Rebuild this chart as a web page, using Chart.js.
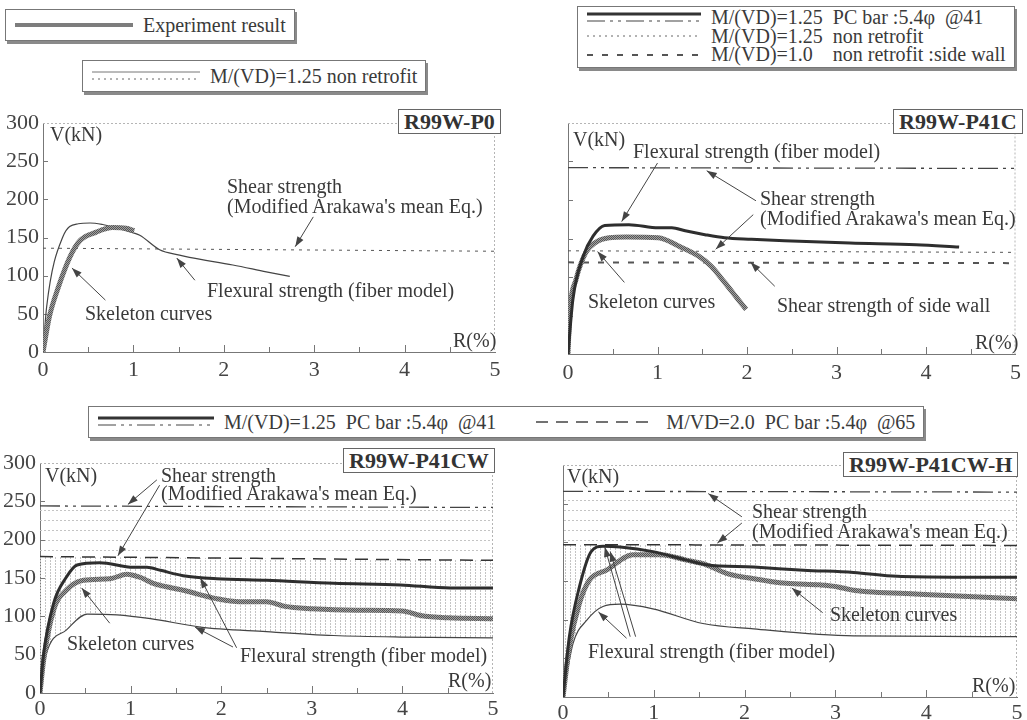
<!DOCTYPE html>
<html>
<head>
<meta charset="utf-8">
<script src="https://cdn.jsdelivr.net/npm/chart.js@4.4.1/dist/chart.umd.min.js"></script>
<style>
  body { margin:0; background:#fff; width:1027px; height:720px; position:relative; overflow:hidden;
         font-family:"Liberation Serif","Times New Roman",serif; color:#3a3a3a; }
  canvas { position:absolute; }
  .box { position:absolute; border:1px solid #777; background:#fff; box-shadow:2px 3px 0 #8a8a8a; padding:2px 8px 2px 9px; }
  .row { display:flex; align-items:center; font-size:20px; white-space:pre; }
  .row svg { margin-right:10px; flex:none; }
  .t { position:absolute; font-size:20px; line-height:20px; white-space:pre; color:#3a3a3a; }
  .tag { position:absolute; border:1px solid #666; background:#fff; font-weight:bold; font-size:22px;
         line-height:23px; padding:0 5px; color:#333; }
</style>
</head>
<body>

<!-- legend boxes -->
<div class="box" style="left:5px;top:9px;">
  <div class="row" style="height:26px"><svg width="118" height="12"><line x1="0" y1="6" x2="118" y2="6" stroke="#7d7d7d" stroke-width="4"/></svg><span>Experiment result</span></div>
</div>
<div class="box" style="left:82px;top:60px;">
  <div class="row" style="height:26px"><svg width="108" height="14"><line x1="0" y1="3" x2="108" y2="3" stroke="#777" stroke-width="1"/><line x1="0" y1="10" x2="108" y2="10" stroke="#666" stroke-width="1" stroke-dasharray="2 4"/></svg><span>M/(VD)=1.25 non retrofit</span></div>
</div>
<div class="box" style="left:577px;top:6px;padding-top:1px;padding-bottom:3px">
  <div class="row" style="height:19px"><svg width="114" height="14"><line x1="0" y1="3" x2="114" y2="3" stroke="#333" stroke-width="3"/><line x1="0" y1="10" x2="114" y2="10" stroke="#444" stroke-width="1.2" stroke-dasharray="18 5 3 5 3 5"/></svg><span>M/(VD)=1.25  PC bar :5.4φ  @41</span></div>
  <div class="row" style="height:18px"><svg width="114" height="14"><line x1="0" y1="7" x2="114" y2="7" stroke="#666" stroke-width="1" stroke-dasharray="2 4"/></svg><span>M/(VD)=1.25  non retrofit</span></div>
  <div class="row" style="height:19px"><svg width="114" height="14"><line x1="0" y1="7" x2="114" y2="7" stroke="#555" stroke-width="2" stroke-dasharray="6 9"/></svg><span>M/(VD)=1.0    non retrofit :side wall</span></div>
</div>
<div class="box" style="left:88px;top:406px;">
  <div class="row" style="height:26px"><svg width="116" height="14"><line x1="0" y1="3" x2="116" y2="3" stroke="#333" stroke-width="3"/><line x1="0" y1="10" x2="116" y2="10" stroke="#444" stroke-width="1.2" stroke-dasharray="18 5 3 5 3 5"/></svg><span>M/(VD)=1.25  PC bar :5.4φ  @41</span><svg width="120" height="14" style="margin-left:40px"><line x1="0" y1="7" x2="120" y2="7" stroke="#444" stroke-width="1.4" stroke-dasharray="12 8"/></svg><span>M/VD=2.0  PC bar :5.4φ  @65</span></div>
</div>

<canvas id="c1" width="515" height="285" style="left:0;top:100px"></canvas>
<canvas id="c2" width="507" height="285" style="left:520px;top:100px"></canvas>
<canvas id="c3" width="515" height="280" style="left:0;top:440px"></canvas>
<canvas id="c4" width="507" height="280" style="left:520px;top:440px"></canvas>

<!-- panel 1 texts -->
<div class="t" style="left:50px;top:124px">V(kN)</div>
<div class="t" style="left:227px;top:176px">Shear strength
(Modified Arakawa's mean Eq.)</div>
<div class="t" style="left:207px;top:280px">Flexural strength (fiber model)</div>
<div class="t" style="left:85px;top:303px">Skeleton curves</div>
<div class="t" style="left:453px;top:330px">R(%)</div>
<div class="tag" style="left:398px;top:109px">R99W-P0</div>

<!-- panel 2 texts -->
<div class="t" style="left:573px;top:129px">V(kN)</div>
<div class="t" style="left:633px;top:141px">Flexural strength (fiber model)</div>
<div class="t" style="left:760px;top:188px">Shear strength
(Modified Arakawa's mean Eq.)</div>
<div class="t" style="left:588px;top:291px">Skeleton curves</div>
<div class="t" style="left:777px;top:295px">Shear strength of side wall</div>
<div class="t" style="left:975px;top:332px">R(%)</div>
<div class="tag" style="left:893px;top:109px">R99W-P41C</div>

<!-- panel 3 texts -->
<div class="t" style="left:45px;top:465px">V(kN)</div>
<div class="t" style="left:161px;top:466px;line-height:18px">Shear strength
(Modified Arakawa's mean Eq.)</div>
<div class="t" style="left:67px;top:633px">Skeleton curves</div>
<div class="t" style="left:240px;top:645px">Flexural strength (fiber model)</div>
<div class="t" style="left:448px;top:670px">R(%)</div>
<div class="tag" style="left:343px;top:448px">R99W-P41CW</div>

<!-- panel 4 texts -->
<div class="t" style="left:567px;top:466px">V(kN)</div>
<div class="t" style="left:752px;top:501px">Shear strength
(Modified Arakawa's mean Eq.)</div>
<div class="t" style="left:830px;top:604px">Skeleton curves</div>
<div class="t" style="left:588px;top:641px">Flexural strength (fiber model)</div>
<div class="t" style="left:972px;top:675px">R(%)</div>
<div class="tag" style="left:843px;top:452px">R99W-P41CW-H</div>

<script>
// ---- data: R (%) vs V (kN) ----
const lineEnds = [0, 5];

// R99W-P0
const p0ExpR   = [0, 0.07, 0.17, 0.30, 0.41, 0.59, 0.77, 0.92, 1.01];
const p0ExpV   = [0, 46, 85, 125, 146, 157, 163, 162, 159];
const p0FlexR  = [0, 0.04, 0.22, 0.39, 0.52, 0.66, 0.77, 1.0, 1.07, 1.29, 1.51, 1.62, 2.1, 2.47, 2.73];
const p0FlexV  = [0, 59, 151, 168, 169, 167, 164, 156, 153, 134, 127, 124, 114, 105, 99];
const p0ShearV = [136, 132];

// R99W-P41C
const p41cExpR   = [0, 0.02, 0.09, 0.2, 0.31, 0.46, 0.65, 1.01, 1.24, 1.46, 1.6, 1.75, 1.9, 1.99];
const p41cExpV   = [0, 54, 97, 132, 145, 151, 152, 151, 140, 127, 114, 93, 71, 58];
const p41cFlexR  = [0, 0.055, 0.17, 0.28, 0.41, 0.68, 1.01, 1.16, 1.31, 1.53, 1.75, 2.05, 2.42, 3.15, 3.89, 4.37];
const p41cFlexV  = [0, 71, 127, 153, 167, 168, 164, 164, 160, 155, 151, 149, 147, 144, 142, 139];
const p41cShearV = [242, 241];
const p41cNonV   = [134, 132];
const p41cSideV  = [119, 118];

// R99W-P41CW
const p41cwExpR   = [0, 0.04, 0.15, 0.29, 0.48, 0.77, 0.96, 1.1, 1.25, 1.58, 1.95, 2.2, 2.5, 2.7, 3.0, 3.5, 4.0, 4.2, 4.5, 5];
const p41cwExpV   = [0, 43, 108, 134, 147, 149, 155, 151, 143, 134, 123, 119, 119, 113, 110, 108, 107, 101, 98, 97];
const p41cwFlexR  = [0, 0.04, 0.15, 0.29, 0.41, 0.66, 1.03, 1.18, 1.33, 1.58, 1.95, 2.5, 3.24, 3.98, 4.53, 5];
const p41cwFlexV  = [0, 51, 117, 151, 167, 170, 164, 164, 160, 153, 149, 147, 143, 141, 137, 137];
const p41cwThinR  = [0, 0.07, 0.29, 0.52, 0.85, 1.22, 1.77, 2.5, 3.24, 3.98, 5];
const p41cwThinV  = [0, 51, 82, 103, 102, 97, 86, 80, 75, 73, 72];
const p41cwShearV = [244, 242];
const p41cwWallV  = [178, 173];

// R99W-P41CW-H
const p41cwhExpR   = [0, 0.07, 0.18, 0.29, 0.48, 0.77, 1.07, 1.36, 1.58, 1.8, 2.1, 2.46, 2.83, 3.0, 3.2, 3.93, 5];
const p41cwhExpV   = [0, 65, 121, 151, 164, 184, 184, 177, 171, 160, 153, 147, 145, 143, 138, 133, 127];
const p41cwhFlexR  = [0, 0.07, 0.18, 0.31, 0.44, 0.63, 0.99, 1.36, 1.58, 2.1, 2.65, 3.2, 3.68, 4.3, 5];
const p41cwhFlexV  = [0, 78, 142, 188, 195, 194, 188, 177, 171, 168, 164, 161, 156, 155, 155];
const p41cwhThinR  = [0, 0.11, 0.26, 0.44, 0.63, 0.99, 1.54, 2.1, 3.2, 5];
const p41cwhThinV  = [0, 69, 99, 117, 120, 114, 95, 88, 79, 78];
const p41cwhShearV = [266, 265];
const p41cwhWallV  = [197, 196];

// annotation arrows [R from, V from, R to, V to]
const p0Arrows = [[2.99,177,2.79,138],[1.68,94,1.48,123],[0.69,68,0.32,110]];
const p41cArrows = [[1.0,248,0.6,172],[2.1,199,1.55,238],[2.07,181,1.65,136],[0.63,93,0.33,133],[2.31,88,2.04,119]];
const p41cwArrows = [[1.29,278,0.97,246],[1.32,271,0.86,179],[0.77,91,0.46,137],[2.13,60,1.71,86],[2.17,59,1.77,150]];
const p41cwhArrows = [[1.97,233,1.6,263],[1.97,225,1.7,199],[2.86,109,2.52,141],[0.7,76,0.39,110],[0.74,78,0.46,194],[0.8,78,0.52,188]];

// ---- helpers ----
function pts(rs, vs) { return rs.map((r, i) => ({x: r, y: vs[i]})); }

function makePattern(w, h, draw) {
  const c = document.createElement('canvas');
  c.width = w; c.height = h;
  const x = c.getContext('2d');
  draw(x);
  return x.createPattern(c, 'repeat');
}
const vHatch = makePattern(5, 3, x => { x.fillStyle = '#c4c4c4'; x.fillRect(0, 0, 1, 2); });
const hHatch = makePattern(4, 10, x => { x.fillStyle = '#c4c4c4'; x.fillRect(0, 0, 2, 1); });
const expPattern = makePattern(2, 2, x => {
  x.fillStyle = '#a0a0a0'; x.fillRect(0, 0, 2, 2);
  x.fillStyle = '#555'; x.fillRect(0, 0, 1, 1); x.fillRect(1, 1, 1, 1);
});

const expStyle  = {borderColor: expPattern, borderWidth: 5};
const flexStyle = {borderColor: '#2e2e2e', borderWidth: 3};
const thinStyle = {borderColor: '#444', borderWidth: 1.2};
const dotStyle  = {borderColor: '#555', borderWidth: 1, borderDash: [3, 5], tension: 0};
const dashDotStyle = {borderColor: '#444', borderWidth: 1.3, borderDash: [20, 5, 3, 5, 3, 5], tension: 0};
const sideStyle = {borderColor: '#555', borderWidth: 2, borderDash: [6, 9], tension: 0};
const dashStyle = {borderColor: '#333', borderWidth: 1.5, borderDash: [13, 8], tension: 0};

// plot frame + inward tick marks
const framePlugin = {
  id: 'frame',
  beforeDatasetsDraw(chart) {
    const {ctx, chartArea: a, scales: {x, y}} = chart;
    ctx.save();
    ctx.strokeStyle = '#b5b5b5'; ctx.lineWidth = 1; ctx.setLineDash([2, 2]);
    ctx.beginPath();
    ctx.moveTo(a.left, a.top + 0.5); ctx.lineTo(a.right - 0.5, a.top + 0.5); ctx.lineTo(a.right - 0.5, a.bottom);
    ctx.stroke();
    ctx.setLineDash([]); ctx.strokeStyle = '#777';
    ctx.beginPath();
    for (let r = 0.5; r < 5; r += 0.5) {
      const px = Math.round(x.getPixelForValue(r)) + 0.5;
      ctx.moveTo(px, a.bottom); ctx.lineTo(px, a.bottom - (r % 1 ? 5 : 7));
    }
    for (let v = 50; v < 300; v += 50) {
      const py = Math.round(y.getPixelForValue(v)) + 0.5;
      ctx.moveTo(a.left, py); ctx.lineTo(a.left + 5, py);
    }
    ctx.stroke();
    ctx.restore();
  }
};

// annotation arrows
const annotPlugin = {
  id: 'annot',
  afterDatasetsDraw(chart, args, opts) {
    const {ctx, scales: {x, y}} = chart;
    ctx.save();
    ctx.strokeStyle = '#444'; ctx.fillStyle = '#444'; ctx.lineWidth = 1;
    (opts.arrows || []).forEach(a => {
      const x1 = x.getPixelForValue(a[0]), y1 = y.getPixelForValue(a[1]);
      const x2 = x.getPixelForValue(a[2]), y2 = y.getPixelForValue(a[3]);
      ctx.beginPath(); ctx.moveTo(x1, y1); ctx.lineTo(x2, y2); ctx.stroke();
      const ang = Math.atan2(y2 - y1, x2 - x1), L = 10, W = 3.5;
      ctx.beginPath();
      ctx.moveTo(x2, y2);
      ctx.lineTo(x2 - L * Math.cos(ang) + W * Math.sin(ang), y2 - L * Math.sin(ang) - W * Math.cos(ang));
      ctx.lineTo(x2 - L * Math.cos(ang) - W * Math.sin(ang), y2 - L * Math.sin(ang) + W * Math.cos(ang));
      ctx.closePath(); ctx.fill();
    });
    ctx.restore();
  }
};

const tickFont = {family: "'Liberation Serif', 'Times New Roman', serif", size: 22};

function makePanel(id, g, datasets, showY, arrows) {
  return new Chart(document.getElementById(id), {
    type: 'line',
    data: {datasets},
    plugins: [framePlugin, annotPlugin],
    options: {
      responsive: false, animation: false, devicePixelRatio: 1,
      layout: {padding: {top: g.pt, right: g.pr, left: 0, bottom: 0}},
      elements: {point: {radius: 0}, line: {tension: 0.4, cubicInterpolationMode: 'monotone'}},
      plugins: {
        legend: {display: false}, tooltip: {enabled: false},
        filler: {drawTime: 'beforeDatasetsDraw'},
        annot: {arrows}
      },
      scales: {
        x: {
          type: 'linear', min: 0, max: 5,
          ticks: {stepSize: 1, padding: g.xp, color: '#444', font: tickFont, maxRotation: 0},
          grid: {display: false, drawTicks: false},
          border: {color: '#777', width: 1},
          afterFit: s => { s.height = g.xh; }
        },
        y: {
          min: 0, max: 300,
          ticks: {stepSize: 50, display: showY, padding: 4, color: '#444', font: tickFont},
          grid: {display: false, drawTicks: false},
          border: {color: '#777', width: 1},
          afterFit: s => { s.width = g.yw; }
        }
      }
    }
  });
}

// R99W-P0
makePanel('c1', {pt: 23, pr: 20, yw: 43, xh: 33, xp: 5}, [
  {data: pts(p0ExpR, p0ExpV), ...expStyle},
  {data: pts(p0FlexR, p0FlexV), ...thinStyle},
  {data: pts(lineEnds, p0ShearV), ...dotStyle}
], true, p0Arrows);

// R99W-P41C
makePanel('c2', {pt: 23, pr: 7, yw: 48, xh: 31, xp: 6}, [
  {data: pts(p41cFlexR, p41cFlexV), ...flexStyle},
  {data: pts(p41cExpR, p41cExpV), ...expStyle},
  {data: pts(lineEnds, p41cShearV), ...dashDotStyle},
  {data: pts(lineEnds, p41cNonV), ...dotStyle},
  {data: pts(lineEnds, p41cSideV), ...sideStyle}
], false, p41cArrows);

// R99W-P41CW
makePanel('c3', {pt: 23, pr: 22, yw: 40, xh: 27, xp: 3}, [
  {data: pts(p41cwFlexR, p41cwFlexV), ...flexStyle},
  {data: pts(p41cwExpR, p41cwExpV), ...expStyle},
  {data: pts(p41cwThinR, p41cwThinV), ...thinStyle},
  {data: pts(lineEnds, p41cwWallV), ...dashStyle, fill: 2, backgroundColor: vHatch},
  {data: pts(lineEnds, p41cwShearV), ...dashDotStyle, fill: 3, backgroundColor: hHatch}
], true, p41cwArrows);

// R99W-P41CW-H
makePanel('c4', {pt: 25, pr: 10, yw: 43, xh: 23, xp: 3}, [
  {data: pts(p41cwhFlexR, p41cwhFlexV), ...flexStyle},
  {data: pts(p41cwhExpR, p41cwhExpV), ...expStyle},
  {data: pts(p41cwhThinR, p41cwhThinV), ...thinStyle},
  {data: pts(lineEnds, p41cwhWallV), ...dashStyle, fill: 2, backgroundColor: vHatch},
  {data: pts(lineEnds, p41cwhShearV), ...dashDotStyle, fill: 3, backgroundColor: hHatch}
], false, p41cwhArrows);
</script>
</body>
</html>
